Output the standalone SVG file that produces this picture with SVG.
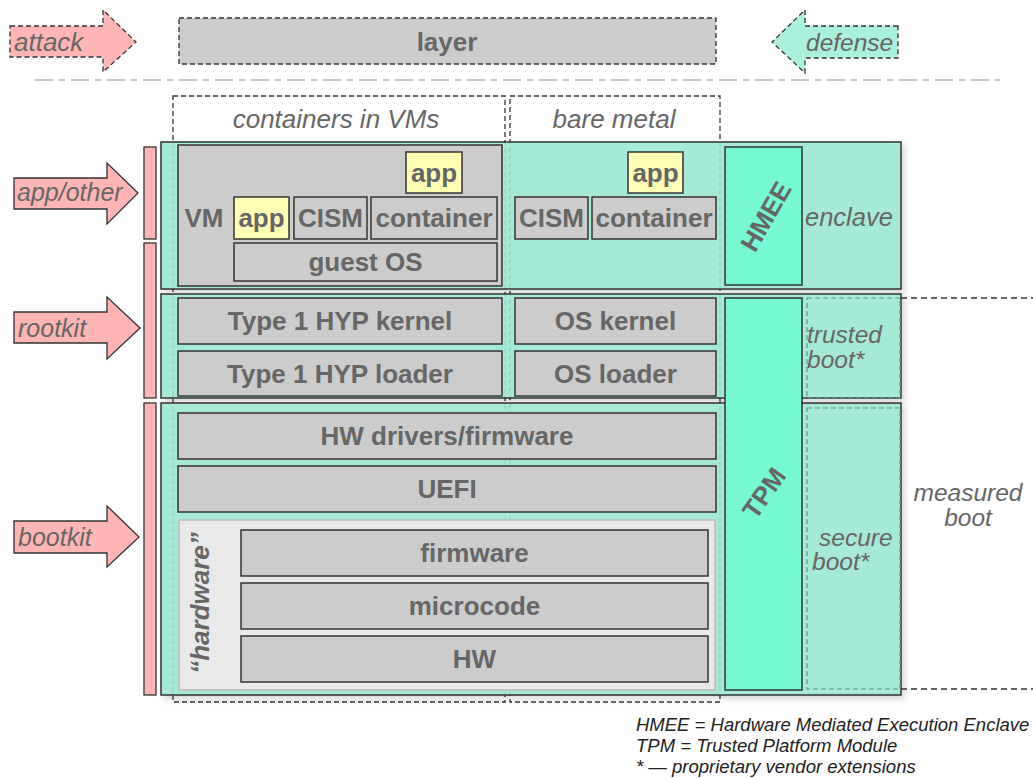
<svg xmlns="http://www.w3.org/2000/svg" width="1033" height="778" viewBox="0 0 1033 778">
  <style>
    .lbl { font-family: "Liberation Sans", Arial, sans-serif; font-weight: bold; font-size: 26px; fill: #666; text-anchor: middle; }
    .it { font-family: "Liberation Sans", Arial, sans-serif; font-style: italic; fill: #666; }
    .box { fill: #cccccc; stroke: #333; stroke-width: 1.5; }
    .app { fill: #ffffb3; stroke: #333; stroke-width: 1.5; }
    .layer { fill: #9ee9d5; fill-opacity: 0.88; stroke: #333; stroke-width: 1.5; }
    .chip { fill: #76f8d3; stroke: #333; stroke-width: 1.5; }
    .arrow { fill: #ffb5b5; stroke: #333; stroke-width: 1.3; }
    .bar { fill: #ffb5b5; stroke: #333; stroke-width: 1.3; }
    .col { fill: none; stroke: #333; stroke-width: 1.3; stroke-dasharray: 5 3; }
    .zone { fill: none; stroke: #5d9a8a; stroke-width: 1.2; stroke-dasharray: 5 3; }
    .guide { fill: none; stroke: #333; stroke-width: 1.3; stroke-dasharray: 6 4; }
    .note { font-family: "Liberation Sans", Arial, sans-serif; font-style: italic; font-size: 18.5px; fill: #222; }
  </style>
  <defs>
    <filter id="shadow" x="-5%" y="-5%" width="110%" height="110%">
      <feDropShadow dx="3" dy="3" stdDeviation="3" flood-color="#000" flood-opacity="0.18"/>
    </filter>
  </defs>

  <!-- legend row -->
  <g id="legend">
    <path class="arrow" stroke-dasharray="5 3" d="M10,26 H103 V10 L136,42 L103,72 V57 H10 Z"/>
    <text class="it" x="14" y="51" font-size="26">attack</text>
    <rect x="179" y="18" width="537" height="46" fill="#cccccc" stroke="#333" stroke-width="1.3" stroke-dasharray="5 3"/>
    <text class="lbl" x="447" y="51">layer</text>
    <path fill="#aaf0dc" stroke="#333" stroke-width="1.3" stroke-dasharray="5 3" d="M898,26 H805 V10 L772,42 L805,73 V58 H898 Z"/>
    <text class="it" x="806" y="51" font-size="24.5">defense</text>
    <line x1="35" y1="80" x2="1000" y2="80" stroke="#c8c8c8" stroke-width="2" stroke-dasharray="18 6 6 6"/>
  </g>

  <!-- deployment columns -->
  <g id="columns">
    <rect class="col" x="173" y="96" width="332" height="606"/>
    <text class="it" x="336" y="128" font-size="26" text-anchor="middle" fill="#777">containers in VMs</text>
    <rect class="col" x="510" y="96" width="210" height="606"/>
    <text class="it" x="614" y="128" font-size="26" text-anchor="middle" fill="#777">bare metal</text>
  </g>

  <!-- attack arrows and bars -->
  <g id="attacks">
    <path class="arrow" d="M14,178 H107 V163 L138,193 L107,224 V209 H14 Z"/>
    <text class="it" x="17" y="201" font-size="25">app/other</text>
    <path class="arrow" d="M14,312 H107 V297 L140,328 L107,359 V343 H14 Z"/>
    <text class="it" x="18" y="337" font-size="25">rootkit</text>
    <path class="arrow" d="M14,521 H107 V506 L139,537 L107,567 V553 H14 Z"/>
    <text class="it" x="18" y="546" font-size="25">bootkit</text>
    <rect class="bar" x="144" y="147" width="12" height="92"/>
    <rect class="bar" x="144" y="243" width="12" height="155"/>
    <rect class="bar" x="144" y="403" width="12" height="292"/>
  </g>

  <!-- layer bands -->
  <g id="bands" filter="url(#shadow)">
    <rect class="layer" x="161" y="142" width="740" height="147"/>
    <rect class="layer" x="161" y="294" width="740" height="104"/>
    <rect class="layer" x="161" y="403" width="740" height="292"/>
  </g>

  <!-- application layer -->
  <g id="vm">
    <rect class="box" x="178" y="145" width="324" height="141"/>
    <text class="lbl" x="204" y="227">VM</text>
  </g>
  <g id="vm-app-top">
    <rect class="app" x="406" y="152" width="56" height="41"/>
    <text class="lbl" x="434" y="182">app</text>
  </g>
  <g id="vm-app">
    <rect class="app" x="234" y="197" width="55" height="42"/>
    <text class="lbl" x="261.5" y="227">app</text>
  </g>
  <g id="vm-cism">
    <rect class="box" x="294" y="197" width="73" height="42"/>
    <text class="lbl" x="330.5" y="227">CISM</text>
  </g>
  <g id="vm-container">
    <rect class="box" x="371" y="197" width="126" height="42"/>
    <text class="lbl" x="434" y="227">container</text>
  </g>
  <g id="guest-os">
    <rect class="box" x="234" y="243" width="263" height="38"/>
    <text class="lbl" x="365.5" y="271">guest OS</text>
  </g>
  <g id="bm-app">
    <rect class="app" x="628" y="152" width="55" height="41"/>
    <text class="lbl" x="655.5" y="182">app</text>
  </g>
  <g id="bm-cism">
    <rect class="box" x="515" y="197" width="73" height="42"/>
    <text class="lbl" x="551.5" y="227">CISM</text>
  </g>
  <g id="bm-container">
    <rect class="box" x="592" y="197" width="124" height="42"/>
    <text class="lbl" x="654" y="227">container</text>
  </g>
  <g id="hmee">
    <rect class="chip" x="725" y="147" width="77" height="138"/>
    <text class="lbl" x="0" y="0" font-size="28" transform="translate(765,216) rotate(-60) translate(0,10)">HMEE</text>
  </g>
  <text class="it" x="805" y="226" font-size="25.5">enclave</text>

  <!-- kernel / loader layer -->
  <g id="hyp-kernel">
    <rect class="box" x="178" y="298" width="324" height="46"/>
    <text class="lbl" x="340" y="330">Type 1 HYP kernel</text>
  </g>
  <g id="hyp-loader">
    <rect class="box" x="178" y="351" width="324" height="45"/>
    <text class="lbl" x="340" y="383">Type 1 HYP loader</text>
  </g>
  <g id="os-kernel">
    <rect class="box" x="515" y="298" width="201" height="46"/>
    <text class="lbl" x="615.5" y="330">OS kernel</text>
  </g>
  <g id="os-loader">
    <rect class="box" x="515" y="351" width="201" height="45"/>
    <text class="lbl" x="615.5" y="383">OS loader</text>
  </g>

  <!-- firmware layer -->
  <g id="hw-drivers">
    <rect class="box" x="178" y="413" width="538" height="46"/>
    <text class="lbl" x="447" y="445">HW drivers/firmware</text>
  </g>
  <g id="uefi">
    <rect class="box" x="178" y="466" width="538" height="46"/>
    <text class="lbl" x="447" y="498">UEFI</text>
  </g>
  <g id="hardware">
    <rect x="179" y="520" width="536" height="170" fill="#e9e9e9" stroke="#bdbdbd" stroke-width="1.5"/>
    <text class="lbl" x="0" y="0" font-size="24" font-style="italic" fill="#aaa" transform="translate(209,603) rotate(-90)">“hardware”</text>
  </g>
  <g id="firmware">
    <rect class="box" x="241" y="530" width="467" height="46"/>
    <text class="lbl" x="474.5" y="562">firmware</text>
  </g>
  <g id="microcode">
    <rect class="box" x="241" y="583" width="467" height="46"/>
    <text class="lbl" x="474.5" y="615">microcode</text>
  </g>
  <g id="hw">
    <rect class="box" x="241" y="636" width="467" height="46"/>
    <text class="lbl" x="474.5" y="668">HW</text>
  </g>

  <!-- boot chain defenses -->
  <g id="tpm">
    <rect class="chip" x="725" y="298" width="77" height="392"/>
    <text class="lbl" x="0" y="0" font-size="26" transform="translate(764,493) rotate(-55) translate(0,9)">TPM</text>
  </g>
  <g id="trusted-boot">
    <rect class="zone" x="807" y="298" width="93" height="100"/>
    <text class="it" x="807" y="343" font-size="24.5">trusted</text>
    <text class="it" x="807" y="368" font-size="24.5">boot*</text>
  </g>
  <g id="secure-boot">
    <rect class="zone" x="807" y="408" width="93" height="281"/>
    <text class="it" x="819" y="546" font-size="24.5">secure</text>
    <text class="it" x="812" y="570" font-size="24.5">boot*</text>
  </g>
  <g id="measured-boot">
    <line class="guide" x1="901" y1="298" x2="1033" y2="298"/>
    <line class="guide" x1="901" y1="689" x2="1033" y2="689"/>
    <text class="it" x="968" y="501" font-size="24.5" text-anchor="middle">measured</text>
    <text class="it" x="968" y="526" font-size="24.5" text-anchor="middle">boot</text>
  </g>

  <!-- footnotes -->
  <g id="notes">
    <text class="note" x="636" y="731">HMEE = Hardware Mediated Execution Enclave</text>
    <text class="note" x="636" y="752">TPM = Trusted Platform Module</text>
    <text class="note" x="636" y="773">* — proprietary vendor extensions</text>
  </g>
</svg>
